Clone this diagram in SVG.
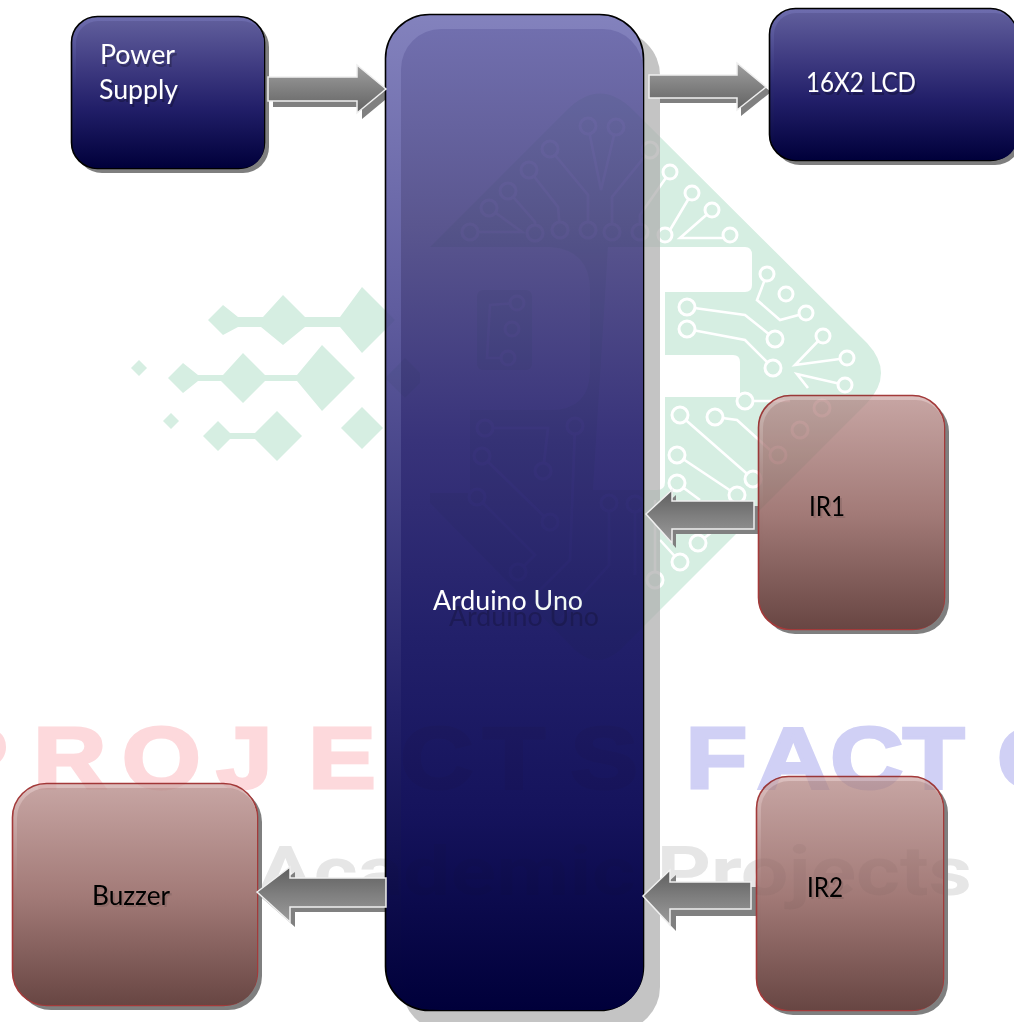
<svg xmlns="http://www.w3.org/2000/svg" width="1014" height="1022" viewBox="0 0 1014 1022">
<style>
text{font-family:"Lato","Carlito","Open Sans",sans-serif;font-size:26px}
.lt{fill:#fff;filter:url(#ts)}
.dk{fill:#000;filter:url(#ts2)}
.shB{fill:#7f7f7f}
.bB{fill:url(#bandB);stroke:#000;stroke-width:1.6}
.iB{fill:url(#gB)}
.bR{fill:url(#bandR);stroke:#a33a3a;stroke-width:1.6}
.iR{fill:url(#gR)}
.arr{fill:url(#gA);stroke:#efefef;stroke-width:1.5}
.arrR{fill:url(#gA2);stroke:#efefef;stroke-width:1.5}
.arrS{fill:#808080}
.m{fill:#d6eee2}
.t{fill:none;stroke:#fff;stroke-width:2.6}
.c{fill:#d6eee2;stroke:#fff;stroke-width:3}
.wm{font-family:"Liberation Sans",sans-serif;font-weight:700;font-size:88px;stroke-width:3}
</style>
<defs>
<linearGradient id="gB" x1="0" y1="0" x2="0" y2="1"><stop offset="0" stop-color="#5f5d9b"/><stop offset=".3" stop-color="#403c82"/><stop offset=".6" stop-color="#211e68"/><stop offset="1" stop-color="#00003a"/></linearGradient>
<linearGradient id="bandB" x1="0" y1="0" x2="0" y2="1"><stop offset="0" stop-color="#6f6eaf"/><stop offset=".5" stop-color="#2c2a72"/><stop offset="1" stop-color="#00003a"/></linearGradient>
<linearGradient id="gU" x1="0" y1="0" x2="0" y2="1"><stop offset="0" stop-color="#716fae"/><stop offset=".2" stop-color="#5a568f"/><stop offset=".42" stop-color="#38337a"/><stop offset=".62" stop-color="#22206a"/><stop offset=".8" stop-color="#15135c"/><stop offset="1" stop-color="#00003a"/></linearGradient>
<linearGradient id="bandU" x1="0" y1="0" x2="0" y2="1"><stop offset="0" stop-color="#8382bd"/><stop offset=".3" stop-color="#5f5c9e"/><stop offset=".7" stop-color="#232169"/><stop offset="1" stop-color="#00003a"/></linearGradient>
<linearGradient id="gR" x1="0" y1="0" x2="0" y2="1"><stop offset="0" stop-color="#c6a4a2"/><stop offset=".5" stop-color="#a27a77"/><stop offset="1" stop-color="#684643"/></linearGradient>
<linearGradient id="bandR" x1="0" y1="0" x2="0" y2="1"><stop offset="0" stop-color="#dcc0bf"/><stop offset=".5" stop-color="#a27a77"/><stop offset="1" stop-color="#684643"/></linearGradient>
<linearGradient id="gA" x1="0" y1="0" x2="0" y2="1"><stop offset="0" stop-color="#5e5e5e"/><stop offset=".5" stop-color="#7f7f7f"/><stop offset="1" stop-color="#9c9c9c"/></linearGradient>
<linearGradient id="gA2" x1="0" y1="0" x2="0" y2="1"><stop offset="0" stop-color="#a0a0a0"/><stop offset=".5" stop-color="#808080"/><stop offset="1" stop-color="#626262"/></linearGradient>
<filter id="ts" x="-20%" y="-20%" width="150%" height="170%"><feDropShadow dx="2" dy="3" stdDeviation=".6" flood-color="#000" flood-opacity=".25"/></filter>
<filter id="ts2" x="-20%" y="-20%" width="150%" height="170%"><feDropShadow dx="2" dy="2" stdDeviation=".6" flood-color="#000" flood-opacity=".1"/></filter>
<filter id="tsU" x="-10%" y="-20%" width="130%" height="220%"><feDropShadow dx="16" dy="16" stdDeviation=".5" flood-color="#000" flood-opacity=".2"/></filter>
<clipPath id="cl">
<rect x="385" y="14" width="275" height="1008"/>
<rect x="758" y="395" width="186" height="234" rx="32"/>
<rect x="756" y="776" width="187" height="234" rx="32"/>
<rect x="12" y="783" width="245" height="222" rx="34"/>
</clipPath>
</defs>
<rect width="1014" height="1022" fill="#fff"/>

<g id="watermark">
<g id="logo-arrows" class="m">
<path d="M208,320L223,305L238,317H263L283,295L305,317H340L362,287L395,320L362,353L340,327H305L283,345L261,327H238L223,335Z"/>
<path d="M168,378L183,363L198,375H223L243,353L265,375H297L322,345L355,378L322,411L297,381H265L243,403L221,381H198L183,393Z"/>
<path d="M203,436L218,421L230,433H255L277,411L302,436L277,461L255,439H230L218,451Z"/>
<path d="M362,407L383,428L362,449L341,428Z"/>
<path d="M131,368L139,360L147,368L139,376Z"/>
<path d="M163,421L171,413L179,421L171,429Z"/>
<path d="M385,378L405,358L425,378L405,398Z"/>
</g>
<path class="m" d="M430,247L567,110Q600,77 633,110L867,343Q895,373 867,403L620,650Q597,670 575,650L430,503Z"/>
<path fill="#fff" d="M420,247H550Q590,250 590,290V370Q590,410 550,410H470V493H420Z"/>
<rect class="m" x="477" y="290" width="55" height="80" rx="6"/>
<path fill="#fff" d="M608,247H745Q752,247 752,255V285Q752,292 745,292H665V355H733Q740,355 740,362V397H665V482Q665,490 657,490H593Z"/>
<g>
<path class="t" d="M470,232H522L489,208M508,191L535,222V233M529,170L558,207L560,230M550,149L588,195V230M588,126L601,190L616,127M612,232V197L650,150M640,232V215L670,172M667,235L692,193M712,210L680,238H730"/>
<path class="t" d="M767,274L757,300L780,320L806,313M687,307L745,315L775,339M687,329L745,340L773,368M823,336L795,365L847,358M845,385L797,374L808,388M745,401H790M680,415L753,479M715,417L737,420L770,450M677,455L737,495M677,483L700,500M698,543L740,510M680,562L660,540"/>
<path class="t" d="M517,303L490,305L487,358H508M485,428H548L543,471M482,456L550,522M477,497L535,555L518,572M575,426L570,560L540,590M609,503V565L560,620M635,504V575M655,580V500"/>
<g class="c">
<circle cx="470" cy="232" r="8"/><circle cx="489" cy="208" r="8"/><circle cx="508" cy="191" r="8"/><circle cx="529" cy="170" r="8"/><circle cx="550" cy="149" r="8"/><circle cx="588" cy="126" r="8"/><circle cx="616" cy="127" r="8"/><circle cx="535" cy="233" r="8"/><circle cx="560" cy="230" r="8"/><circle cx="588" cy="230" r="8"/><circle cx="612" cy="232" r="8"/><circle cx="640" cy="232" r="8"/><circle cx="650" cy="150" r="8"/>
<circle cx="670" cy="172" r="7"/><circle cx="692" cy="193" r="7"/><circle cx="712" cy="210" r="7"/><circle cx="730" cy="235" r="7"/><circle cx="665" cy="235" r="7"/><circle cx="767" cy="274" r="7"/><circle cx="786" cy="294" r="7"/><circle cx="806" cy="313" r="7"/><circle cx="823" cy="336" r="7"/><circle cx="847" cy="358" r="7"/><circle cx="845" cy="385" r="7"/><circle cx="687" cy="307" r="8"/><circle cx="687" cy="329" r="8"/><circle cx="775" cy="339" r="8"/><circle cx="773" cy="368" r="8"/><circle cx="745" cy="401" r="8"/><circle cx="680" cy="415" r="8"/><circle cx="715" cy="417" r="8"/><circle cx="677" cy="455" r="8"/><circle cx="677" cy="483" r="8"/><circle cx="753" cy="479" r="8"/><circle cx="737" cy="495" r="8"/><circle cx="698" cy="543" r="8"/><circle cx="680" cy="562" r="8"/><circle cx="655" cy="580" r="8"/><circle cx="822" cy="408" r="8"/><circle cx="800" cy="430" r="8"/><circle cx="778" cy="455" r="8"/>
<circle cx="517" cy="303" r="7"/><circle cx="512" cy="329" r="7"/><circle cx="508" cy="358" r="7"/><circle cx="485" cy="428" r="8"/><circle cx="482" cy="456" r="8"/><circle cx="477" cy="497" r="8"/><circle cx="543" cy="471" r="8"/><circle cx="550" cy="522" r="8"/><circle cx="575" cy="426" r="8"/><circle cx="518" cy="572" r="8"/><circle cx="609" cy="503" r="8"/><circle cx="635" cy="504" r="8"/>
</g>
</g>
<text class="wm" fill="#fdd9dc" stroke="#fdd9dc" transform="scale(1.15 1)" y="788.500" x="-52 29 106 188 268 348 420 496">PROJECTS</text>
<text class="wm" fill="#d0d0f5" stroke="#d0d0f5" transform="scale(1.15 1)" y="788.500" x="596 658 722 785 867">FACTO</text>
<text x="257" y="895" fill="#e6e6e6" style="font-family:Roboto,sans-serif;font-weight:700;font-size:68px" textLength="715" lengthAdjust="spacingAndGlyphs">Academic Projects</text>
</g>

<g id="connector-shadows">
<path class="arrS" d="M273,82H362V71L391,95L362,119V107H273Z"/>
<path class="arrS" d="M653,80H741V68L771,92L741,116V103H653Z"/>
<path class="arrS" d="M650,519L676,495V506H758V534H676V548Z"/>
<path class="arrS" d="M647,901L676,875V887H756V916H676V931Z"/>
<path class="arrS" d="M261,897L295,872V883H391V912H295V927Z"/>
</g>

<g id="node-power-supply">
<rect class="shB" x="76" y="21" width="193" height="152" rx="26"/>
<rect class="bB" x="71.500" y="16.500" width="193" height="152" rx="26"/>
<rect class="iB" x="76" y="21" width="188" height="147" rx="22"/>
<text class="lt" x="100" y="64" textLength="75" lengthAdjust="spacingAndGlyphs">Power</text>
<text class="lt" x="99" y="99" textLength="79" lengthAdjust="spacingAndGlyphs">Supply</text>
</g>
<g id="node-lcd">
<rect class="shB" x="774" y="13" width="247" height="152" rx="26"/>
<rect class="bB" x="769.500" y="8.500" width="247" height="152" rx="26"/>
<rect class="iB" x="774" y="13" width="243" height="147" rx="22"/>
<text class="lt" x="806" y="92" textLength="110" lengthAdjust="spacingAndGlyphs">16X2 LCD</text>
</g>
<g id="node-arduino">
<rect x="402" y="31" width="258" height="1000" rx="44" fill="#c4c4c4"/>
<rect x="385.500" y="14.500" width="258" height="996" rx="44" fill="url(#bandU)" stroke="#000" stroke-width="1.6"/>
<rect x="401" y="29" width="242" height="981" rx="40" fill="url(#gU)"/>
<text x="433" y="610" fill="#fff" style="filter:url(#tsU)" textLength="150" lengthAdjust="spacingAndGlyphs">Arduino Uno</text>
</g>
<g id="node-ir1">
<rect class="shB" x="763" y="400" width="186" height="234" rx="32"/>
<rect class="bR" x="758.500" y="395.500" width="186" height="234" rx="32"/>
<rect class="iR" x="763" y="400" width="181" height="229" rx="28"/>
<text class="dk" x="809" y="516" textLength="36" lengthAdjust="spacingAndGlyphs">IR1</text>
</g>
<g id="node-ir2">
<rect class="shB" x="761" y="781" width="187" height="234" rx="32"/>
<rect class="bR" x="756.500" y="776.500" width="187" height="234" rx="32"/>
<rect class="iR" x="761" y="781" width="182" height="229" rx="28"/>
<text class="dk" x="807" y="897" textLength="36" lengthAdjust="spacingAndGlyphs">IR2</text>
</g>
<g id="node-buzzer">
<rect class="shB" x="17" y="788" width="245" height="222" rx="34"/>
<rect class="bR" x="12.500" y="783.500" width="245" height="222" rx="34"/>
<rect class="iR" x="17" y="788" width="240" height="217" rx="30"/>
<text class="dk" x="92" y="905" textLength="78" lengthAdjust="spacingAndGlyphs">Buzzer</text>
</g>

<use href="#watermark" clip-path="url(#cl)" opacity=".35" style="mix-blend-mode:multiply"/>

<g id="connectors">
<path class="arrR" d="M268,77H357V65L386,89L357,113V101H268Z"/>
<path class="arrR" d="M649,75H737V63L766,87L737,110V98H649Z"/>
<path class="arr" d="M646,514L672,490V501H754V529H672V543Z"/>
<path class="arr" d="M643,896L670,870V882H751V909H670V925Z"/>
<path class="arr" d="M257,892L290,867V878H386V907H290V922Z"/>
</g>
</svg>
